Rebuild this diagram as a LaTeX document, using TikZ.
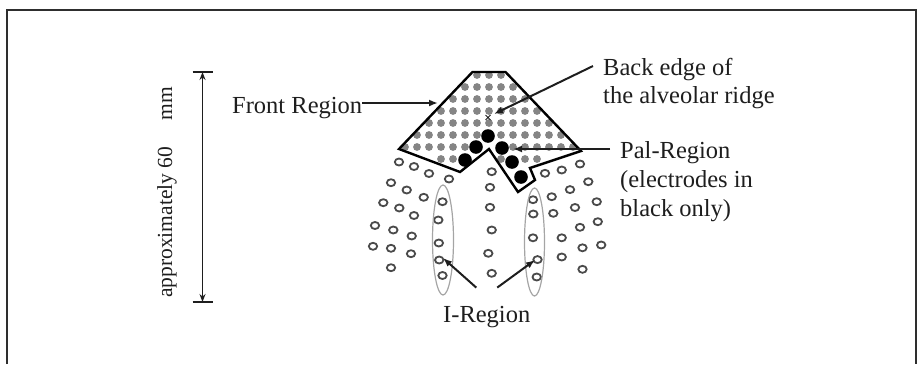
\documentclass[tikz,border=0pt]{standalone}
\usepackage{fontspec}
\setmainfont{Liberation Serif}
\usetikzlibrary{arrows.meta,shapes.geometric}
\definecolor{ink}{HTML}{1E1E1E}
\definecolor{framegray}{HTML}{2E2E2E}
\definecolor{dotgray}{HTML}{858585}
\definecolor{ringgray}{HTML}{4A4A4A}
\definecolor{zonegray}{HTML}{A5A5A5}
\begin{document}
\begin{tikzpicture}[x=1pt,y=-1pt,
  lbl/.style={font=\fontsize{24.5}{28}\selectfont, text=ink, inner sep=0pt, anchor=base west},
  arr/.style={draw=ink, line width=2pt, -{Latex[length=9pt,width=7pt]}},
  dimline/.style={draw=ink, line width=1.8pt},
  region/.style={draw=black, line width=2.4pt, line join=miter},
  graydot/.style={fill=dotgray},
  blackdot/.style={fill=black},
  ring/.style={draw=ringgray, line width=1.8pt},
  zone/.style={draw=zonegray, line width=1.2pt},
  framed/.style={draw=framegray, line width=2pt}]
\useasboundingbox (0,0) rectangle (918,364);

% outer frame
\draw[framed] (6.5,364) -- (6.5,9.5) -- (915.5,9.5) -- (915.5,364);

% dimension bar with its label
\coordinate (dimtop) at (202.5,72);
\coordinate (dimbot) at (202.5,302);
\draw[dimline] ([xshift=-10pt]dimtop) -- ([xshift=10pt]dimtop);
\draw[dimline] ([xshift=-10pt]dimbot) -- ([xshift=10pt]dimbot);
\draw[dimline, {Stealth[length=8pt,width=6pt]}-{Stealth[length=8pt,width=6pt]}] (dimtop) -- (dimbot);
\node[rotate=90, inner sep=0pt, text=ink, font=\fontsize{21.5}{24}\selectfont] (dimlabel) at (167,192.5) {approximately 60\hspace{26pt}mm};

% electrodes of the front region (grey), on a 12pt grid
\foreach \y/\xs in {75/{477,489,501},
  87/{465,477,489,501,513},
  99/{453,465,477,489,501,513,525},
  111/{441,453,465,477,489,501,513,525,537},
  123/{429,441,453,465,477,489,501,513,525,537,549},
  135/{417,429,441,453,465,477,501,513,525,537,549,561},
  147/{405,417,429,441,453,465,513,525,537,549,561,573},
  159/{441,453,501,525,537}} {
  \foreach \x in \xs { \fill[graydot] (\x,\y) circle[radius=3.9pt]; }
}

% electrodes of the palatal region (black)
\foreach \x/\y in {488/136, 476/147, 502/148, 465/160, 512/162, 521/177} {
  \fill[blackdot] (\x,\y) circle[radius=6.8pt];
}

% back edge marker
\coordinate (ridge) at (488,117.5);
\draw[ink, line width=1pt] ([xshift=-2.5pt,yshift=2.5pt]ridge) -- ([xshift=2.5pt,yshift=-2.5pt]ridge)
  ([xshift=-2.5pt,yshift=-2.5pt]ridge) -- ([xshift=2.5pt,yshift=2.5pt]ridge);

% outline of front and palatal regions
\draw[region] (472.5,72) -- (505.5,72) -- (581,151) -- (530,168) -- (535,180)
  -- (518,192) -- (489,149) -- (460,172) -- (399,149) -- cycle;

% remaining electrodes (open)
\foreach \x/\y in {
  399/162, 414/166.5, 429/173.5, 449/179,
  391/182.7, 406.7/190, 423.7/197.3,
  383.3/202.7, 399.3/208, 414/215.5,
  375/225.5, 393.3/230, 411.7/236,
  373/246.3, 391/248.3, 411/253.7,
  391/267.7,
  442.5/201.7, 438.3/220, 438.8/243, 439.2/260, 442.5/275.5,
  491.7/171.7, 490/187.3, 490/207.3, 491.7/230, 488.3/253.3, 491.7/273.3,
  533/199.7, 533.3/214, 533/237.8, 537.5/259.6, 536.7/277,
  545/173.3, 561.7/170, 580/164,
  551.7/196.7, 570/189.6, 588.3/181.7,
  553.3/213.3, 575/207.5, 596.7/201.7,
  580/227.3, 597.8/221.7,
  561.7/237.8, 582.5/247.8, 601.2/245,
  561.7/257, 582.5/269.3} {
  \draw[ring] (\x,\y) ellipse[x radius=4.2pt, y radius=3.5pt];
}

% I-region outlines
\node[zone, ellipse, minimum width=21pt, minimum height=110pt, inner sep=0pt] (izoneL) at (443,240) {};
\node[zone, ellipse, minimum width=20pt, minimum height=108pt, inner sep=0pt] (izoneR) at (534.5,242) {};

% labels
\node[lbl] (front) at (232,113) {Front Region};
\node[lbl] (back1) at (603,75) {Back edge of};
\node[lbl] (back2) at (603,103.5) {the alveolar ridge};
\node[lbl] (pal1) at (620,158) {Pal-Region};
\node[lbl] (pal2) at (620,187.5) {(electrodes in};
\node[lbl] (pal3) at (620,216.5) {black only)};
\node[lbl] (ireg) at (443,322) {I-Region};

% leaders
\coordinate (fronttip) at (438,103);
\coordinate (backtip) at (494,114);
\coordinate (paltip) at (513,149);
\coordinate (palstart) at ([xshift=-10pt]pal1.west);
\coordinate (ilefttip) at (443,258);
\coordinate (irighttip) at (535,260);
\draw[arr] (front.east |- fronttip) -- (fronttip);
\draw[arr] ([xshift=-10pt,yshift=3pt]back1.west) -- (backtip);
\draw[arr] (palstart |- paltip) -- (paltip);
\draw[arr] ([xshift=-10.5pt,yshift=18pt]ireg.north) -- (ilefttip);
\draw[arr] ([xshift=10.5pt,yshift=18pt]ireg.north) -- (irighttip);
\end{tikzpicture}
\end{document}
